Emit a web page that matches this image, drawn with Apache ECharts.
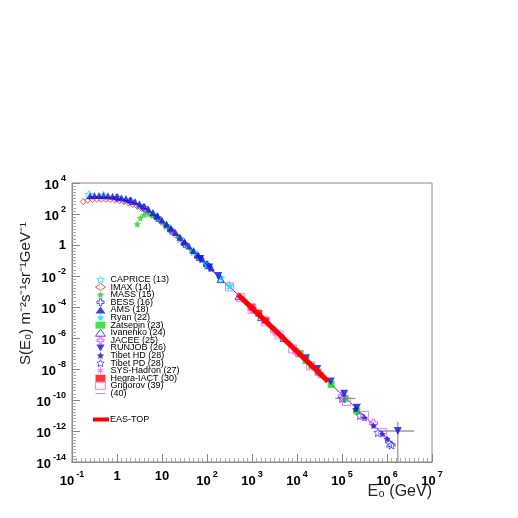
<!DOCTYPE html>
<html>
<head>
<meta charset="utf-8">
<script src="https://cdn.jsdelivr.net/npm/echarts@6/dist/echarts.min.js"></script>
<style>html,body{margin:0;padding:0;background:#fff}#main{width:518px;height:518px}</style>
</head>
<body>
<div id="main"></div>
<script>
// values are [log10 E, log10 S]
var caprice = [[-0.62,3.25],[-0.3,3.2],[0.2,2.92],[0.5,2.55],[0.8,2.0],[1.1,1.25],[1.4,0.4],[1.7,-0.45],[2.0,-1.3],[2.3,-2.15],[2.5,-2.6]];
var imax = [[-0.75,2.8],[-0.65,2.88],[-0.55,2.93],[-0.45,2.95],[-0.35,2.95],[-0.25,2.95],[-0.15,2.93],[-0.05,2.9],[0.05,2.85],[0.15,2.8],[0.25,2.72],[0.35,2.62],[0.45,2.5],[0.55,2.35],[0.65,2.2],[0.75,2.0],[0.85,1.8],[1.0,1.45],[1.1,1.2],[1.2,0.95],[1.3,0.65],[1.4,0.4],[1.5,0.1]];
var mass = [[0.45,1.35],[0.52,1.75],[0.6,1.95],[0.7,2.0],[0.8,1.9],[0.9,1.7],[1.0,1.5],[1.1,1.25],[1.2,1.0],[1.35,0.6],[1.5,0.1],[1.65,-0.35],[1.8,-0.8],[2.0,-1.35]];
var bess = [[0.0,3.05],[0.3,2.82],[0.6,2.4],[0.9,1.75],[1.2,0.92],[1.5,0.05],[1.8,-0.78],[2.0,-1.3]];
var ams = [[-0.6,3.18],[-0.5,3.2],[-0.4,3.2],[-0.3,3.2],[-0.2,3.18],[-0.1,3.15],[0.0,3.1],[0.1,3.05],[0.2,2.98],[0.3,2.9],[0.4,2.8],[0.5,2.65],[0.6,2.5],[0.7,2.3],[0.8,2.1],[0.9,1.88],[1.0,1.62],[1.1,1.35],[1.2,1.08],[1.3,0.8],[1.4,0.5],[1.5,0.22],[1.6,-0.07],[1.7,-0.35],[1.8,-0.63],[1.9,-0.9],[2.0,-1.2],[2.1,-1.48]];
var ryan = [[2.0,-1.28],[2.3,-2.1],[2.51,-2.65],[2.8,-3.5],[3.0,-4.05]];
var zatsepin = [[4.07,-7.0],[4.2,-7.45],[4.33,-7.8],[4.47,-8.2],[4.76,-9.0],[5.07,-9.9],[5.33,-10.7]];
var ivanenko = [[2.3,-2.2],[2.7,-3.3],[3.2,-4.65],[3.7,-6.0]];
var jacee = [[3.0,-4.1],[3.5,-5.55],[4.0,-6.95],[4.5,-8.3],[5.0,-9.75],[5.7,-11.5]];
var runjob = [[1.85,-0.9],[2.05,-1.45],[2.25,-2.0],[4.2,-7.3],[4.45,-8.0],[4.75,-8.8],[5.05,-9.6],[5.33,-10.5],[6.24,-12.0]];
var tibetHD = [[5.3,-10.6],[5.5,-11.15],[5.7,-11.65],[5.9,-12.2],[6.0,-12.5]];
var tibetPD = [[5.0,-9.9],[5.4,-11.0],[5.8,-12.1],[6.05,-12.8],[6.1,-12.9]];
var sysHadron = [[3.3,-4.9],[3.6,-5.8],[4.0,-6.9]];
var hegra = [[3.0,-4.0],[3.15,-4.4],[3.3,-4.85]];
var grigorov = [[2.5,-2.7],[2.75,-3.4],[3.0,-4.15],[3.3,-4.95],[3.6,-5.8],[3.9,-6.7],[4.3,-7.8],[5.1,-10.1],[5.5,-11.0],[5.9,-12.1]];
var fit40 = [[-0.6,3.1],[0.0,3.05],[0.5,2.6],[1.0,1.5],[1.5,0.05],[2.0,-1.35],[3.0,-4.05],[4.0,-6.85],[5.0,-9.65],[6.0,-12.45],[6.2,-13.0]];
var easTop = [[2.69,-3.2],[4.69,-8.8]];
// error bars: [logE, logS, logE lo, logE hi, logS lo, logS hi]
var errorBars = [[5.07,-9.9,4.85,5.3,-10.2,-9.7],[6.24,-12.0,5.85,6.6,-14.0,-11.4]];

function toLin(arr) { return arr.map(function (p) { return [Math.pow(10, p[0]), Math.pow(10, p[1])]; }); }

var STAR = 'path://M0,-10L2.9,-4L9.5,-3.1L4.7,1.5L5.9,8.1L0,5L-5.9,8.1L-4.7,1.5L-9.5,-3.1L-2.9,-4Z';
var CROSS = 'path://M-1,-3H1V-1H3V1H1V3H-1V1H-3V-1H-1Z';
var ASTER = 'path://M-0.6,-5H0.6V-1L4,-3L4.6,-2L1.2,0L4.6,2L4,3L0.6,1V5H-0.6V1L-4,3L-4.6,2L-1.2,0L-4.6,-2L-4,-3L-0.6,-1Z';
var DOWN = 'path://M0,10L-10,-7L10,-7Z';
var HLINE = 'path://M0,0H20V1H0Z';
var THICK = 'path://M0,0H20V5H0Z';

function open(c) { return { color: 'rgba(0,0,0,0)', borderColor: c, borderWidth: 1 }; }
function sc(name, data, symbol, size, style) {
    return { name: name, type: 'scatter', data: toLin(data), symbol: symbol, symbolSize: size,
        itemStyle: style, z: 3 };
}

var series = [
    sc('CAPRICE (13)', caprice, STAR, 8, open('#00e5ff')),
    sc('IMAX (14)', imax, 'diamond', 6, open('#ff2020')),
    sc('MASS (15)', mass, STAR, 7, { color: '#20d020' }),
    sc('BESS (16)', bess, CROSS, 7, open('#2020ff')),
    sc('AMS (18)', ams, 'triangle', 7, { color: '#1010e0' }),
    sc('Ryan (22)', ryan, STAR, 7, { color: '#00e5ff' }),
    sc('Zatsepin (23)', zatsepin, 'rect', 7, { color: '#10e010' }),
    sc('Ivanenko (24)', ivanenko, 'triangle', 7, open('#2020ff')),
    sc('JACEE (25)', jacee, CROSS, 8, open('#ff20ff')),
    sc('RUNJOB (26)', runjob, DOWN, 8, { color: '#1010e0' }),
    sc('Tibet HD (28)', tibetHD, STAR, 7, { color: '#1010c0' }),
    sc('Tibet PD (28)', tibetPD, STAR, 8, open('#3030ff')),
    sc('SYS-Hadron (27)', sysHadron, ASTER, 7, { color: '#ff30ff' }),
    sc('Hegra-IACT (30)', hegra, 'rect', 7, { color: '#ff0000' }),
    sc('Grigorov (39)', grigorov, 'rect', 8, open('#ff60ff')),
    { name: '(40)', type: 'line', data: toLin(fit40), showSymbol: false, symbol: 'none',
      lineStyle: { color: '#4040ff', width: 1 }, itemStyle: { color: '#4040ff' }, z: 2 },
    { name: 'EAS-TOP', type: 'line', data: toLin(easTop), showSymbol: false, symbol: 'none',
      lineStyle: { color: '#ff0000', width: 5 }, itemStyle: { color: '#ff0000' }, z: 4 },
    { name: 'err', type: 'custom', z: 1, data: errorBars.map(function (e) {
        return e.map(function (v) { return Math.pow(10, v); }); }),
      renderItem: function (params, api) {
          var c = api.coord([api.value(0), api.value(1)]);
          var xl = api.coord([api.value(2), api.value(1)]);
          var xh = api.coord([api.value(3), api.value(1)]);
          var yl = api.coord([api.value(0), api.value(4)]);
          var yh = api.coord([api.value(0), api.value(5)]);
          var st = { stroke: '#999', lineWidth: 1.3 };
          return { type: 'group', children: [
              { type: 'line', shape: { x1: xl[0], y1: c[1], x2: xh[0], y2: c[1] }, style: st },
              { type: 'line', shape: { x1: c[0], y1: yl[1], x2: c[0], y2: yh[1] }, style: st }
          ] };
      } }
];

function expLabel(n) {
    n = Math.round(n);
    if (n === 0) return '{b|1}';
    if (n === 1) return '{b|10}';
    return '{b|10}{s|' + n + '}';
}
var rich = {
    b: { fontSize: 13, fontWeight: 'bold', fontFamily: 'Liberation Sans', color: '#000', verticalAlign: 'bottom' },
    s: { fontSize: 9, fontWeight: 'bold', fontFamily: 'Liberation Sans', color: '#000', padding: [0, 0, 9, 2] }
};

var legendData = series.slice(0, 15).map(function (s) {
    return { name: s.name, itemStyle: s.itemStyle };
});
legendData.push({ name: '(40)', icon: HLINE, itemStyle: { color: '#4040ff', borderColor: '#4040ff' } });

var chart = echarts.init(document.getElementById('main'));
chart.setOption({
    backgroundColor: '#fff',
    animation: false,
    grid: { left: 72, right: 86, top: 183, bottom: 56, show: true, borderColor: '#888', borderWidth: 1 },
    legend: [{
        data: legendData, orient: 'vertical', left: 90, top: 270, itemWidth: 10, itemHeight: 7, itemGap: -1.4,
        textStyle: { fontSize: 9, lineHeight: 7, fontFamily: 'Liberation Sans', color: '#000' }
    }, {
        data: [{ name: 'EAS-TOP', icon: THICK, itemStyle: { color: '#ff0000' } }],
        left: 88, top: 410, itemWidth: 16, itemHeight: 4, itemGap: 0,
        textStyle: { fontSize: 9, fontFamily: 'Liberation Sans', color: '#000', padding: [0, 0, 0, -4] }
    }],
    xAxis: [{
        type: 'log', min: 0.1, max: 1e7, logBase: 10, show: false
    }, {
        // exponent scale used only for ticks and labels
        type: 'value', min: -1, max: 7, interval: 1, position: 'bottom',
        axisLine: { lineStyle: { color: '#888' } },
        axisTick: { inside: true, length: 8, lineStyle: { color: '#888' } },
        minorTick: { show: true, splitNumber: 10, length: 4, lineStyle: { color: '#aaa' } },
        splitLine: { show: false },
        axisLabel: { margin: 8, formatter: expLabel, rich: rich }
    }],
    yAxis: [{
        type: 'log', min: 1e-14, max: 1e4, logBase: 10, show: false
    }, {
        type: 'value', min: -14, max: 4, interval: 2, position: 'left',
        axisLine: { lineStyle: { color: '#888' } },
        axisTick: { inside: true, length: 8, lineStyle: { color: '#888' } },
        minorTick: { show: true, splitNumber: 10, length: 4, lineStyle: { color: '#aaa' } },
        splitLine: { show: false },
        axisLabel: { margin: 6, formatter: expLabel, rich: rich }
    }],
    graphic: [
        { type: 'text', position: [18, 365], rotation: Math.PI / 2,
          style: { text: 'S(E₀) m⁻²s⁻¹sr⁻¹GeV⁻¹', fontSize: 15, fontFamily: 'Liberation Sans', fill: '#222' } },
        { type: 'text', right: 86, top: 484,
          style: { text: 'E₀ (GeV)', fontSize: 16, fontFamily: 'Liberation Sans', fill: '#222' } }
    ],
    series: series
});
</script>
</body>
</html>
